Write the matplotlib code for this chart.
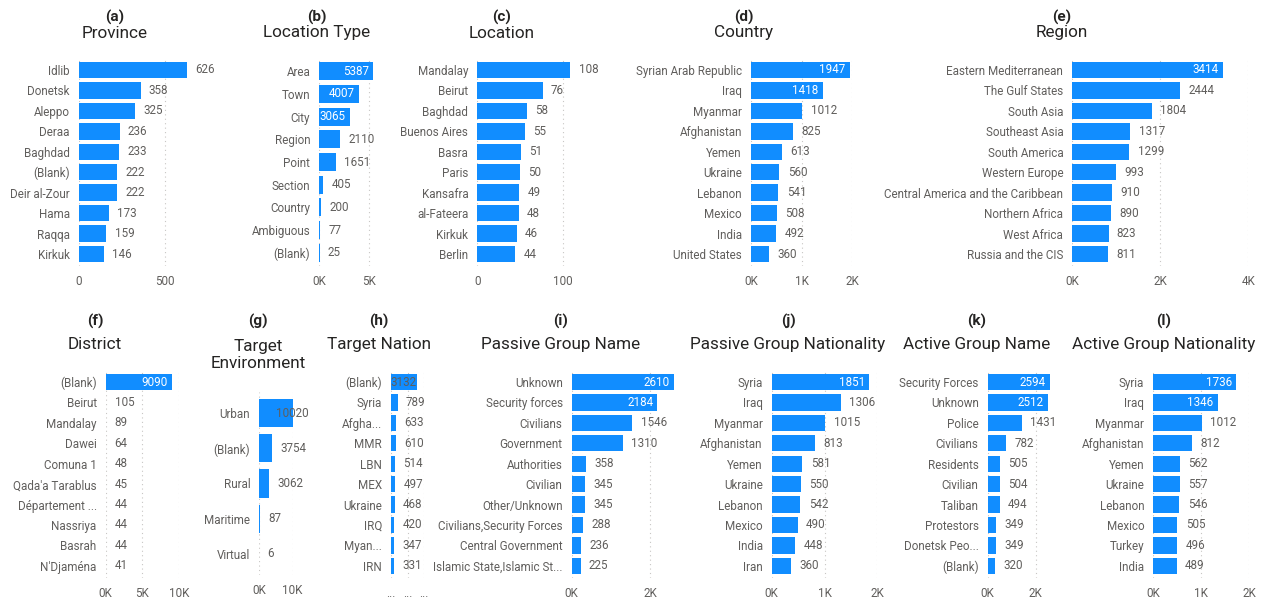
import matplotlib.pyplot as plt

# -- data --
province = ['Idlib', 'Donetsk', 'Aleppo', 'Deraa', 'Baghdad', '(Blank)', 'Deir al-Zour', 'Hama', 'Raqqa', 'Kirkuk']
province_n = [626, 358, 325, 236, 233, 222, 222, 173, 159, 146]

loc_type = ['Area', 'Town', 'City', 'Region', 'Point', 'Section', 'Country', 'Ambiguous', '(Blank)']
loc_type_n = [5387, 4007, 3065, 2110, 1651, 405, 200, 77, 25]

location = ['Mandalay', 'Beirut', 'Baghdad', 'Buenos Aires', 'Basra', 'Paris', 'Kansafra', 'al-Fateera', 'Kirkuk', 'Berlin']
location_n = [108, 76, 58, 55, 51, 50, 49, 48, 46, 44]

country = ['Syrian Arab Republic', 'Iraq', 'Myanmar', 'Afghanistan', 'Yemen', 'Ukraine', 'Lebanon', 'Mexico', 'India', 'United States']
country_n = [1947, 1418, 1012, 825, 613, 560, 541, 508, 492, 360]

region = ['Eastern Mediterranean', 'The Gulf States', 'South Asia', 'Southeast Asia', 'South America', 'Western Europe',
          'Central America and the Caribbean', 'Northern Africa', 'West Africa', 'Russia and the CIS']
region_n = [3414, 2444, 1804, 1317, 1299, 993, 910, 890, 823, 811]

district = ['(Blank)', 'Beirut', 'Mandalay', 'Dawei', 'Comuna 1', "Qada'a Tarablus", 'Département ...', 'Nassriya', 'Basrah', "N'Djaména"]
district_n = [9090, 105, 89, 64, 48, 45, 44, 44, 44, 41]

target_env = ['Urban', '(Blank)', 'Rural', 'Maritime', 'Virtual']
target_env_n = [10020, 3754, 3062, 87, 6]

target_nation = ['(Blank)', 'Syria', 'Afgha...', 'MMR', 'LBN', 'MEX', 'Ukraine', 'IRQ', 'Myan...', 'IRN']
target_nation_n = [3132, 789, 633, 610, 514, 497, 468, 420, 347, 331]

passive_name = ['Unknown', 'Security forces', 'Civilians', 'Government', 'Authorities', 'Civilian', 'Other/Unknown',
                'Civilians,Security Forces', 'Central Government', 'Islamic State,Islamic St...']
passive_name_n = [2610, 2184, 1546, 1310, 358, 345, 345, 288, 236, 225]

passive_nat = ['Syria', 'Iraq', 'Myanmar', 'Afghanistan', 'Yemen', 'Ukraine', 'Lebanon', 'Mexico', 'India', 'Iran']
passive_nat_n = [1851, 1306, 1015, 813, 581, 550, 542, 490, 448, 360]

active_name = ['Security Forces', 'Unknown', 'Police', 'Civilians', 'Residents', 'Civilian', 'Taliban', 'Protestors',
               'Donetsk Peo...', '(Blank)']
active_name_n = [2594, 2512, 1431, 782, 505, 504, 494, 349, 349, 320]

active_nat = ['Syria', 'Iraq', 'Myanmar', 'Afghanistan', 'Yemen', 'Ukraine', 'Lebanon', 'Mexico', 'Turkey', 'India']
active_nat_n = [1736, 1346, 1012, 812, 562, 557, 546, 505, 496, 489]

W, H = 1265, 603
BLUE = '#118DFF'
GREY = '#605E5C'
DARK = '#252423'
plt.rcParams['font.family'] = ['Roboto', 'DejaVu Sans']

# layout in pixels: zero line x, px per unit, axis max, plot top/bottom
panels = [
    dict(tag='(a)', title='Province', cats=province, vals=province_n, x0=79, ppu=0.172, xmax=700,
         ticks=[0, 500], tl=['0', '500'], inside=0, top=57.7, bot=266.3, tx=115, ty=(17, 33)),
    dict(tag='(b)', title='Location Type', cats=loc_type, vals=loc_type_n, x0=319.3, ppu=0.01, xmax=5500,
         ticks=[0, 5000], tl=['0K', '5K'], inside=3, top=57.7, bot=266.3, tx=317, ty=(17, 33)),
    dict(tag='(c)', title='Location', cats=location, vals=location_n, x0=477.3, ppu=0.86, xmax=115,
         ticks=[0, 100], tl=['0', '100'], inside=0, top=57.7, bot=266.3, tx=502, ty=(17, 33)),
    dict(tag='(d)', title='Country', cats=country, vals=country_n, x0=751, ppu=0.0507, xmax=2000,
         ticks=[0, 1000, 2000], tl=['0K', '1K', '2K'], inside=2, top=57.7, bot=266.3, tx=744, ty=(17, 33)),
    dict(tag='(e)', title='Region', cats=region, vals=region_n, x0=1072.3, ppu=0.044, xmax=4000,
         ticks=[0, 2000, 4000], tl=['0K', '2K', '4K'], inside=1, top=57.7, bot=266.3, tx=1062, ty=(17, 33)),
    dict(tag='(f)', title='District', cats=district, vals=district_n, x0=105.7, ppu=0.0073, xmax=10000,
         ticks=[0, 5000, 10000], tl=['0K', '5K', '10K'], inside=1, top=369.8, bot=578, tx=95, ty=(321, 345)),
    dict(tag='(g)', title='Target\nEnvironment', cats=target_env, vals=target_env_n, x0=259.3, ppu=0.00333,
         xmax=10020, ticks=[0, 10000], tl=['0K', '10K'], inside=0, over='center', top=392, bot=575,
         tx=258, ty=(321, 355)),
    dict(tag='(h)', title='Target Nation', cats=target_nation, vals=target_nation_n, x0=391, ppu=0.0083,
         xmax=4000, ticks=[0, 2000, 4000], tl=['...', '...', '...'], inside=0, over='right', top=369.8,
         bot=578, tx=379, ty=(321, 345)),
    dict(tag='(i)', title='Passive Group Name', cats=passive_name, vals=passive_name_n, x0=571.7, ppu=0.0392,
         xmax=2610, ticks=[0, 2000], tl=['0K', '2K'], inside=2, top=369.8, bot=578, tx=561, ty=(321, 345)),
    dict(tag='(j)', title='Passive Group Nationality', cats=passive_nat, vals=passive_nat_n, x0=771.7,
         ppu=0.0528, xmax=2000, ticks=[0, 1000, 2000], tl=['0K', '1K', '2K'], inside=1, top=369.8, bot=578,
         tx=788, ty=(321, 345)),
    dict(tag='(k)', title='Active Group Name', cats=active_name, vals=active_name_n, x0=987.7, ppu=0.024,
         xmax=2594, ticks=[0, 2000], tl=['0K', '2K'], inside=2, top=369.8, bot=578, tx=977, ty=(321, 345)),
    dict(tag='(l)', title='Active Group Nationality', cats=active_nat, vals=active_nat_n, x0=1153.3, ppu=0.0478,
         xmax=2000, ticks=[0, 1000, 2000], tl=['0K', '1K', '2K'], inside=2, top=369.8, bot=578, tx=1164,
         ty=(321, 345)),
]

fig = plt.figure(figsize=(W / 100, H / 100), dpi=100)

for p in panels:
    width = p['xmax'] * p['ppu']
    ax = fig.add_axes([p['x0'] / W, 1 - p['bot'] / H, width / W, (p['bot'] - p['top']) / H])
    n = len(p['cats'])
    ypos = list(range(n))
    ax.barh(ypos, p['vals'], height=0.8, color=BLUE, zorder=2)
    ax.set_xlim(0, p['xmax'])
    ax.set_ylim(n - 0.4, -0.6)
    ax.set_yticks(ypos)
    ax.set_yticklabels(p['cats'], fontsize=8.4, color=GREY)
    ax.set_xticks(p['ticks'])
    ax.set_xticklabels(p['tl'], fontsize=8.4, color=GREY)
    ax.tick_params(length=0, axis='y', pad=6.5)
    ax.tick_params(length=0, axis='x', pad=6.5)
    for t in p['ticks']:
        ax.axvline(t, color='#C8C6C4', lw=0.8, ls=(0, (1, 3)), zorder=1)
    for s in ax.spines.values():
        s.set_visible(False)

    for i, v in enumerate(p['vals']):
        if i < p['inside']:
            ax.annotate(str(v), (v, i), xytext=(-3, 0), textcoords='offset points', ha='right', va='center',
                        fontsize=8.4, color='white')
        elif i == 0 and p.get('over'):
            ax.annotate(str(v), (v, i), xytext=(0, 0), textcoords='offset points', ha=p['over'],
                        va='center', fontsize=8.4, color=GREY, annotation_clip=False)
        else:
            ax.annotate(str(v), (v, i), xytext=(6, 0), textcoords='offset points', ha='left', va='center',
                        fontsize=8.4, color=GREY, annotation_clip=False)

    fig.text(p['tx'] / W, 1 - p['ty'][0] / H, p['tag'], ha='center', va='center', fontsize=11,
             fontweight='bold', color=DARK)
    fig.text(p['tx'] / W, 1 - p['ty'][1] / H, p['title'], ha='center', va='center', fontsize=12.3,
             color=DARK, linespacing=1.15)

plt.savefig('out.png', dpi=100)
